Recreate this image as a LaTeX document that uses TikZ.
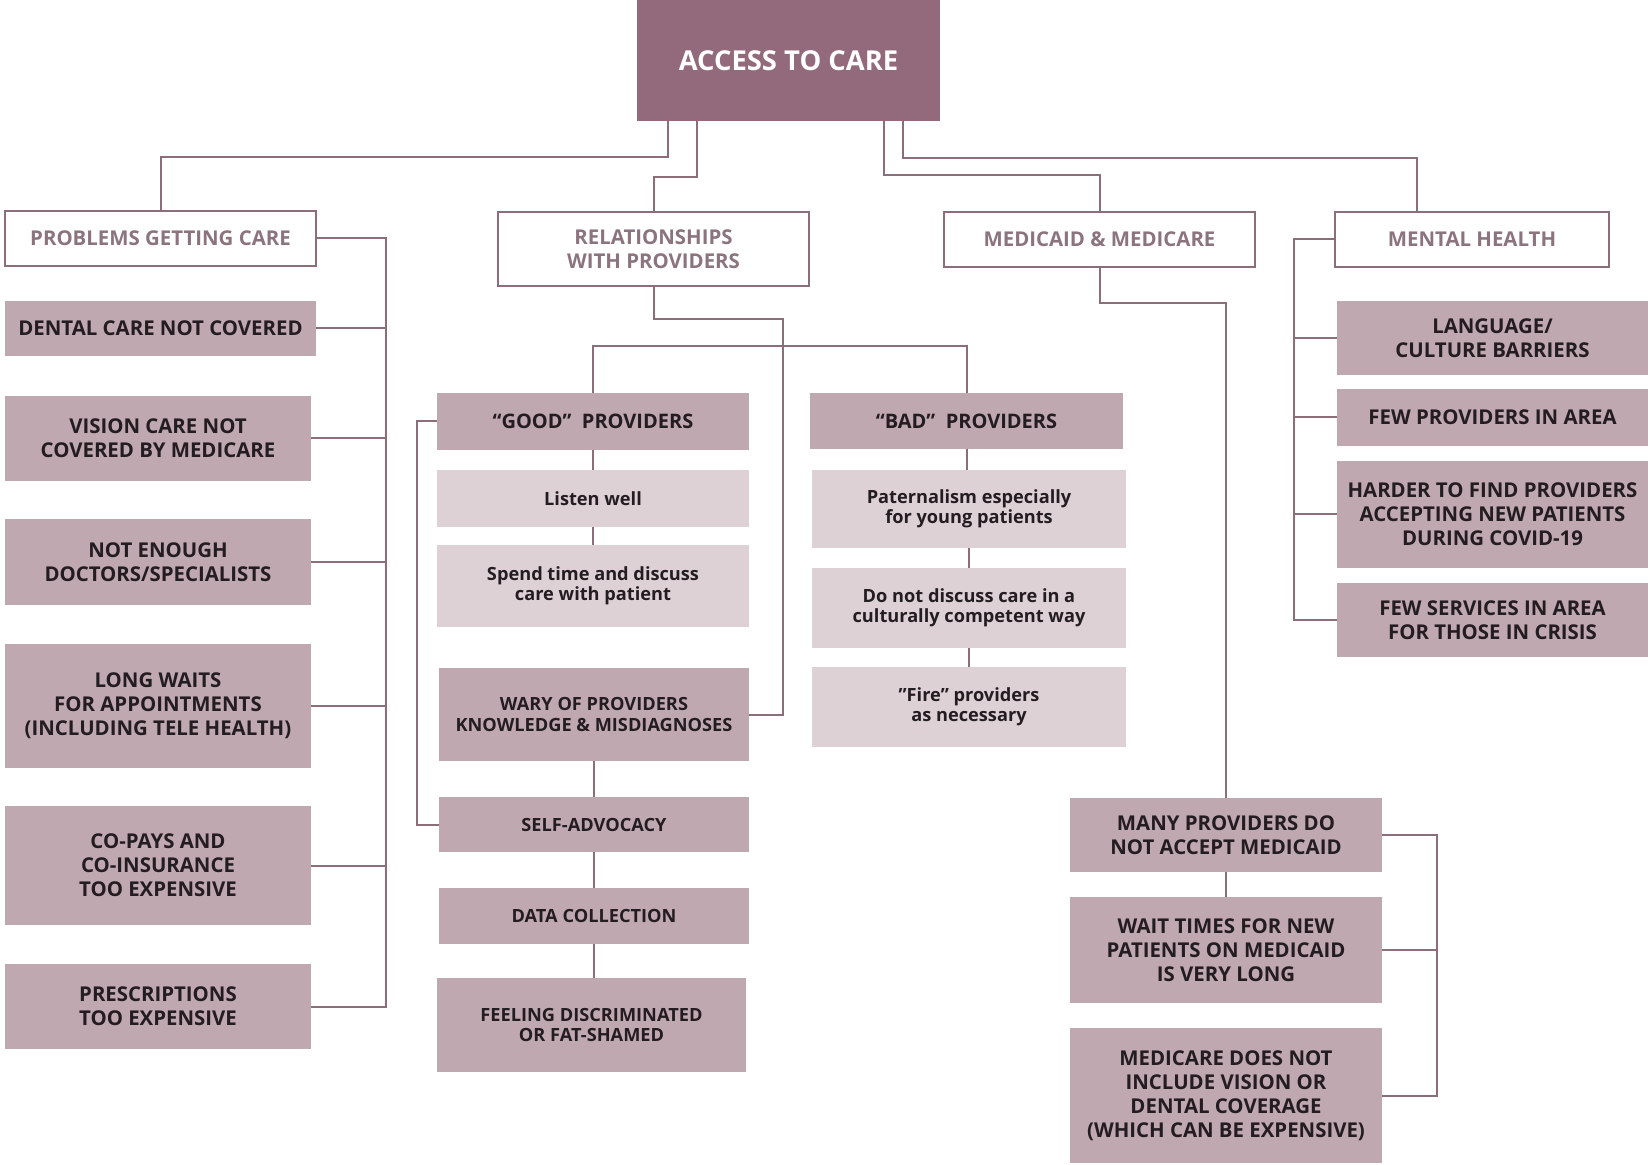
\documentclass[tikz,border=0pt]{standalone}
\usepackage{fontspec}
\setmainfont{Open Sans}
\usetikzlibrary{calc}

\definecolor{topc}{RGB}{147,106,124}
\definecolor{darkc}{RGB}{192,168,176}
\definecolor{lightc}{RGB}{221,209,213}
\definecolor{linec}{RGB}{140,110,122}
\definecolor{headtxt}{RGB}{140,116,127}
\definecolor{txtc}{RGB}{35,28,32}

\tikzset{
	base/.style={rectangle, inner sep=2pt, align=center},
	boxsize/.style 2 args={minimum width=#1pt, minimum height=#2pt},
	topbox/.style={base, fill=topc, text=white, font=\fontsize{13.7}{16}\selectfont\bfseries},
	headbox/.style={base, draw=linec, line width=1pt, fill=white, text=headtxt, font=\fontsize{10.2}{11.8}\selectfont\bfseries},
	darkbox/.style={base, fill=darkc, text=txtc, font=\fontsize{10.2}{12}\selectfont\bfseries},
	midbox/.style={darkbox, font=\fontsize{9.1}{10.2}\selectfont\bfseries},
	lightbox/.style={base, fill=lightc, text=txtc, font=\fontsize{9.1}{10.2}\selectfont\bfseries},
	link/.style={draw=linec, line width=1pt},
}

\begin{document}
\begin{tikzpicture}[x=1pt, y=-1pt]
	\fill[white] (0,0) rectangle (824,582.5);
	\useasboundingbox (0,0) rectangle (824,582.5);

	% root and the four themes
	\node[topbox, boxsize={151.5}{60.5}] (top) at (394.25,30.25) {ACCESS TO CARE};
	\node[headbox, boxsize={155.5}{27.5}] (prob) at (80.25,119.25) {PROBLEMS GETTING CARE};
	\node[headbox, boxsize={155.5}{37}] (rel) at (326.75,124.5) {RELATIONSHIPS\\WITH PROVIDERS};
	\node[headbox, boxsize={155.5}{27.5}] (med) at (549.75,119.75) {MEDICAID \& MEDICARE};
	\node[headbox, boxsize={137}{27.5}] (ment) at (736,119.75) {MENTAL HEALTH};

	% problems getting care
	\node[darkbox, boxsize={155.5}{27.5}] (dent) at (80.25,164.25) {DENTAL CARE NOT COVERED};
	\node[darkbox, boxsize={153}{42.5}] (vis) at (79,219.25) {VISION CARE NOT\\COVERED BY MEDICARE};
	\node[darkbox, boxsize={153}{43}] (enough) at (79,281) {NOT ENOUGH\\DOCTORS/SPECIALISTS};
	\node[darkbox, boxsize={153}{62}] (waits) at (79,353) {LONG WAITS\\FOR APPOINTMENTS\\(INCLUDING TELE HEALTH)};
	\node[darkbox, boxsize={153}{59.5}] (copay) at (79,432.75) {CO-PAYS AND\\CO-INSURANCE\\TOO EXPENSIVE};
	\node[darkbox, boxsize={153}{42.5}] (presc) at (79,503.25) {PRESCRIPTIONS\\TOO EXPENSIVE};

	% relationships with providers
	\node[darkbox, font=\fontsize{10}{11}\selectfont\bfseries, boxsize={156}{28.5}] (good) at (296.5,210.75) {“GOOD”\ \ PROVIDERS};
	\node[lightbox, boxsize={156}{28.5}] (listen) at (296.5,249.25) {Listen well};
	\node[lightbox, boxsize={156}{41}] (spend) at (296.5,293) {Spend time and discuss\\care with patient};
	\node[midbox, boxsize={155}{46.5}] (wary) at (297,357.25) {WARY OF PROVIDERS\\KNOWLEDGE \& MISDIAGNOSES};
	\node[midbox, boxsize={155}{27.5}] (self) at (297,412.25) {SELF-ADVOCACY};
	\node[midbox, boxsize={155}{28}] (data) at (297,458) {DATA COLLECTION};
	\node[midbox, boxsize={154.5}{47}] (feel) at (295.75,512.5) {FEELING DISCRIMINATED\\OR FAT-SHAMED};

	\node[darkbox, font=\fontsize{10}{11}\selectfont\bfseries, boxsize={156.5}{28}] (bad) at (483.25,210.5) {“BAD”\ \ PROVIDERS};
	\node[lightbox, boxsize={157}{39}] (pat) at (484.5,254.5) {Paternalism especially\\for young patients};
	\node[lightbox, boxsize={157}{40}] (disc) at (484.5,304) {Do not discuss care in a\\culturally competent way};
	\node[lightbox, boxsize={157}{40}] (fire) at (484.5,353.5) {"Fire" providers\\as necessary};

	% medicaid & medicare
	\node[darkbox, boxsize={156}{37}] (many) at (613,417.5) {MANY PROVIDERS DO\\NOT ACCEPT MEDICAID};
	\node[darkbox, boxsize={156}{53}] (wait) at (613,475) {WAIT TIMES FOR NEW\\PATIENTS ON MEDICAID\\IS VERY LONG};
	\node[darkbox, boxsize={156}{67.5}] (mcare) at (613,547.75) {MEDICARE DOES NOT\\INCLUDE VISION OR\\DENTAL COVERAGE\\(WHICH CAN BE EXPENSIVE)};

	% mental health
	\node[darkbox, boxsize={155.5}{37}] (lang) at (746.25,169) {LANGUAGE/\\CULTURE BARRIERS};
	\node[darkbox, boxsize={155.5}{28.5}] (fewp) at (746.25,208.75) {FEW PROVIDERS IN AREA};
	\node[darkbox, boxsize={155.5}{53.5}] (hard) at (746.25,257.25) {HARDER TO FIND PROVIDERS\\ACCEPTING NEW PATIENTS\\DURING COVID-19};
	\node[darkbox, boxsize={155.5}{37}] (fews) at (746.25,310) {FEW SERVICES IN AREA\\FOR THOSE IN CRISIS};

	% bus lines
	\coordinate (lbus) at (193,0);
	\coordinate (gbus) at (208.5,0);
	\coordinate (relbend) at (391.5,159.5);
	\coordinate (rbus) at (718.5,0);
	\coordinate (mbus) at (647,0);

	% root to themes
	\draw[link] ($(top.south west)+(15.5,0)$) -- ++(0,18) -| (prob.north);
	\draw[link] ($(top.south west)+(30,0)$) -- ++(0,28) -| (rel.north);
	\draw[link] ($(top.south west)+(123.5,0)$) -- ++(0,27) -| (med.north);
	\draw[link] ($(top.south west)+(133,0)$) -- ++(0,18.5) -| ($(ment.north west)+(41.5,0)$);

	% problems getting care
	\draw[link] (prob.east) -| (presc.east -| lbus) -- (presc.east);
	\foreach \n in {dent,vis,enough,waits,copay} {
		\draw[link] (\n.east) -- (\n.east -| lbus);
	}

	% relationships with providers
	\draw[link] (rel.south) |- (relbend) |- (wary.east);
	\draw[link] (good.north) -- ++(0,-23.5) -| (bad.north);
	\draw[link] (good.west) -| (self.west -| gbus) -- (self.west);
	\foreach \a/\b in {good/listen,listen/spend,wary/self,self/data,data/feel,bad/pat,pat/disc,disc/fire} {
		\draw[link] (\a.south) -- (\a.south |- \b.north);
	}

	% medicaid & medicare
	\draw[link] (med.south) -- ++(0,17.5) -| (many.north);
	\draw[link] (many.south) -- (wait.north);
	\draw[link] (many.east) -| (mcare.east -| rbus) -- (mcare.east);
	\draw[link] (wait.east) -- (wait.east -| rbus);

	% mental health
	\draw[link] (ment.west) -| (fews.west -| mbus) -- (fews.west);
	\foreach \n in {lang,fewp,hard} {
		\draw[link] (\n.west) -- (\n.west -| mbus);
	}
\end{tikzpicture}
\end{document}
